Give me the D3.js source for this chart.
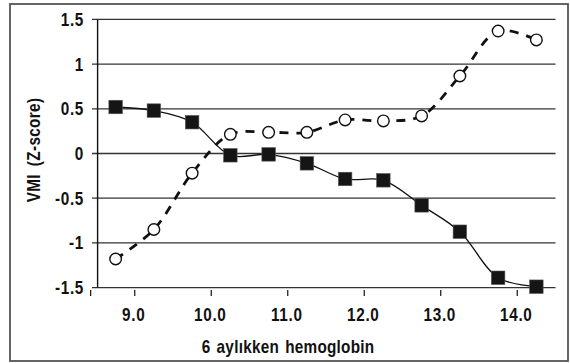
<!DOCTYPE html>
<html>
<head>
<meta charset="utf-8">
<script src="https://cdn.jsdelivr.net/npm/d3@7"></script>
<style>
  body { margin: 0; background: #fff; }
  text { font-family: "Liberation Sans", Arial, sans-serif; font-weight: bold; fill: #111; }
</style>
</head>
<body>
<svg width="570" height="363"></svg>
<script>
// hemoglobin groups (g/dL) at 6 months
let hb = [8.75, 9.25, 9.75, 10.25, 10.75, 11.25, 11.75, 12.25, 12.75, 13.25, 13.75, 14.25];
// VMI z-scores
let filled = [0.52, 0.48, 0.35, -0.02, -0.01, -0.11, -0.285, -0.30, -0.58, -0.875, -1.39, -1.49];
let open = [-1.18, -0.85, -0.22, 0.215, 0.237, 0.237, 0.375, 0.364, 0.42, 0.867, 1.37, 1.27];
let xTicks = [9, 10, 11, 12, 13, 14];
let yTicks = [-1.5, -1, -0.5, 0, 0.5, 1, 1.5];
let yTickLabels = ["-1.5", "-1", "-0.5", "0", "0.5", "1", "1.5"];

const svg = d3.select("svg");
const narrow = 0.85; // squeeze the bold face to look like a condensed one

// outer frame
svg.append("rect")
    .attr("x", 10).attr("y", 4)
    .attr("width", 558).attr("height", 357)
    .attr("fill", "none")
    .attr("stroke", "#555")
    .attr("stroke-width", 1.8);

const x = d3.scaleLinear().domain([8.5, 14.5]).range([96.5, 555.5]);
const y = d3.scaleLinear().domain([-1.5, 1.5]).range([287.6, 19.4]);

// horizontal gridlines (they poke out left of the axis like ticks)
svg.append("g")
    .selectAll("line")
    .data(yTicks)
    .enter()
    .append("line")
    .attr("x1", 92)
    .attr("x2", x(14.5))
    .attr("y1", d => y(d))
    .attr("y2", d => y(d))
    .attr("stroke", "#333")
    .attr("stroke-width", 1.3);

// left axis line
svg.append("line")
    .attr("x1", 97.6).attr("x2", 97.6)
    .attr("y1", y(1.5)).attr("y2", y(-1.5))
    .attr("stroke", "#111")
    .attr("stroke-width", 1.4);

// y tick labels
svg.append("g")
    .selectAll("text")
    .data(yTicks)
    .enter()
    .append("text")
    .attr("transform", d => `translate(84,${y(d)}) scale(${narrow},1)`)
    .attr("dy", "0.36em")
    .attr("text-anchor", "end")
    .attr("font-size", "18px")
    .attr("letter-spacing", "0.8px")
    .text((d, i) => yTickLabels[i]);

// x ticks below the bottom gridline
svg.append("g")
    .selectAll("line")
    .data([8.45].concat(xTicks))
    .enter()
    .append("line")
    .attr("x1", d => x(d) - (d === 8.45 ? 2 : 0))
    .attr("x2", d => x(d) - (d === 8.45 ? 2 : 0))
    .attr("y1", 290)
    .attr("y2", 296)
    .attr("stroke", "#111")
    .attr("stroke-width", 1.2);

svg.append("g")
    .selectAll("text")
    .data(xTicks)
    .enter()
    .append("text")
    .attr("transform", d => `translate(${x(d) - 1},320.5) scale(${narrow},1)`)
    .attr("text-anchor", "middle")
    .attr("font-size", "18px")
    .attr("letter-spacing", "0.8px")
    .text(d => d.toFixed(1));

// axis titles
svg.append("text")
    .attr("transform", `translate(288,352.5) scale(${narrow},1)`)
    .attr("text-anchor", "middle")
    .attr("font-size", "18px")
    .attr("letter-spacing", "0.3px")
    .attr("word-spacing", "2px")
    .text("6 aylıkken hemoglobin");

svg.append("text")
    .attr("transform", `translate(40,150) rotate(-90) scale(${narrow},1)`)
    .attr("text-anchor", "middle")
    .attr("font-size", "18px")
    .attr("letter-spacing", "0.4px")
    .attr("word-spacing", "4px")
    .text("VMI (Z-score)");

// series lines
const line = d3.line()
    .x((d, i) => x(hb[i]))
    .y(d => y(d))
    .curve(d3.curveCatmullRom);

svg.append("path")
    .datum(open)
    .attr("d", line)
    .attr("fill", "none")
    .attr("stroke", "#111")
    .attr("stroke-width", 2.8)
    .attr("stroke-dasharray", "9,8");

svg.append("path")
    .datum(filled)
    .attr("d", line)
    .attr("fill", "none")
    .attr("stroke", "#111")
    .attr("stroke-width", 1.3);

// markers
svg.append("g")
    .selectAll("circle")
    .data(open)
    .enter()
    .append("circle")
    .attr("cx", (d, i) => x(hb[i]))
    .attr("cy", d => y(d))
    .attr("r", 5.8)
    .attr("fill", "#fff")
    .attr("stroke", "#111")
    .attr("stroke-width", 1.4);

const sq = 13.5;
svg.append("g")
    .selectAll("rect")
    .data(filled)
    .enter()
    .append("rect")
    .attr("x", (d, i) => x(hb[i]) - sq / 2)
    .attr("y", d => y(d) - sq / 2)
    .attr("width", sq)
    .attr("height", sq)
    .attr("fill", "#151515")
    .attr("stroke", "#555")
    .attr("stroke-width", 0.6);
</script>
</body>
</html>
